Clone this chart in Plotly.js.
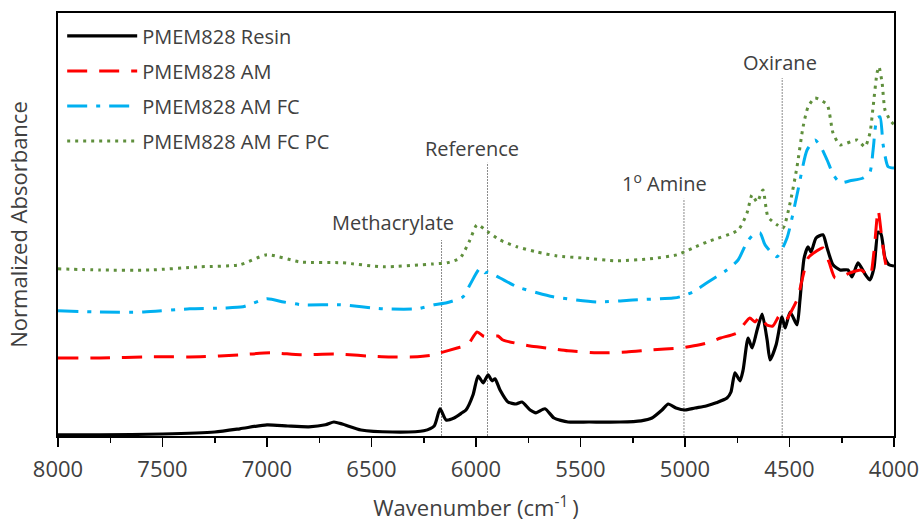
<!DOCTYPE html>
<html>
<head>
<meta charset="utf-8">
<script src="https://cdn.plot.ly/plotly-3.0.1.min.js"></script>
<style>html,body{margin:0;padding:0;background:#fff}#chart{width:920px;height:523px}</style>
</head>
<body>
<div id="chart"></div>
<script>
// ---- Data ----
const resinWavenumber = [8000,7800,7500,7250,7130,7000,6900,6800,6720,6680,6640,6550,6400,6250,6200,6172,6143,6105,6067,6048,6014,5990,5966,5942,5923,5909,5885,5847,5808,5780,5741,5713,5670,5627,5560,5459,5311,5210,5158,5110,5080,5043,5000,4952,4899,4851,4799,4780,4761,4737,4722,4698,4679,4655,4631,4607,4593,4564,4536,4521,4497,4464,4450,4430,4411,4397,4373,4340,4320,4292,4258,4220,4201,4172,4139,4115,4096,4076,4062,4043,4024,4000];
const resinAbs = [0.003,0.003,0.005,0.010,0.018,0.028,0.025,0.023,0.028,0.035,0.030,0.015,0.010,0.013,0.025,0.068,0.040,0.045,0.058,0.065,0.103,0.150,0.133,0.153,0.138,0.143,0.115,0.085,0.080,0.085,0.065,0.058,0.068,0.045,0.035,0.035,0.035,0.038,0.045,0.065,0.080,0.070,0.065,0.070,0.075,0.083,0.095,0.110,0.158,0.138,0.165,0.245,0.220,0.265,0.305,0.240,0.190,0.228,0.298,0.270,0.310,0.278,0.340,0.445,0.473,0.460,0.495,0.503,0.470,0.428,0.415,0.415,0.398,0.433,0.405,0.390,0.420,0.510,0.505,0.445,0.428,0.425];

const amWavenumber = [8000,7800,7560,7320,7130,6980,6840,6680,6450,6280,6200,6170,6090,6040,5995,5966,5947,5895,5871,5790,5741,5660,5560,5420,5280,5167,5024,4930,4880,4830,4750,4720,4690,4665,4641,4610,4580,4545,4517,4488,4460,4440,4411,4383,4340,4311,4282,4244,4210,4158,4115,4096,4076,4057,4033,4000];
const amAbs = [0.195,0.195,0.198,0.198,0.203,0.208,0.203,0.205,0.198,0.198,0.203,0.208,0.220,0.228,0.260,0.250,0.248,0.250,0.240,0.230,0.225,0.220,0.213,0.208,0.210,0.215,0.220,0.228,0.235,0.245,0.258,0.278,0.295,0.285,0.300,0.278,0.275,0.303,0.290,0.315,0.345,0.390,0.445,0.458,0.470,0.435,0.395,0.400,0.408,0.415,0.400,0.460,0.565,0.490,0.420,0.410];

const amfcWavenumber = [8000,7800,7590,7370,7210,7115,7000,6920,6830,6650,6445,6280,6200,6140,6062,6029,5980,5957,5942,5885,5804,5708,5631,5421,5250,5057,5024,4962,4895,4800,4746,4703,4674,4641,4617,4560,4512,4464,4416,4378,4350,4320,4290,4258,4210,4148,4115,4100,4081,4067,4052,4028,4000];
const amfcAbs = [0.313,0.310,0.310,0.318,0.320,0.323,0.343,0.335,0.328,0.328,0.318,0.318,0.328,0.333,0.348,0.378,0.420,0.408,0.410,0.395,0.373,0.358,0.348,0.335,0.340,0.345,0.348,0.360,0.383,0.415,0.440,0.485,0.503,0.508,0.478,0.448,0.495,0.603,0.715,0.740,0.723,0.690,0.653,0.633,0.638,0.645,0.660,0.715,0.795,0.798,0.728,0.673,0.670];

const amfcpcWavenumber = [8000,7800,7560,7320,7130,7000,6840,6640,6445,6210,6139,6076,6029,5995,5942,5885,5804,5708,5612,5488,5325,5167,5038,4962,4895,4746,4703,4679,4655,4627,4603,4560,4531,4497,4464,4435,4411,4378,4320,4292,4258,4177,4139,4115,4100,4081,4072,4057,4043,4019,4000];
const amfcpcAbs = [0.418,0.415,0.415,0.423,0.428,0.453,0.435,0.433,0.423,0.430,0.433,0.445,0.490,0.528,0.510,0.490,0.473,0.460,0.450,0.445,0.438,0.443,0.453,0.470,0.485,0.515,0.558,0.603,0.585,0.615,0.548,0.528,0.520,0.583,0.673,0.773,0.823,0.845,0.828,0.758,0.728,0.740,0.723,0.758,0.823,0.908,0.923,0.883,0.815,0.790,0.778];

const seriesNames = ["PMEM828 Resin","PMEM828 AM","PMEM828 AM FC","PMEM828 AM FC PC"];

// reference band markers
const bandNames = ["Methacrylate","Reference","1<sup>o</sup> Amine","Oxirane"];
const bandWavenumber = [6165,5945,5005,4535];
const bandLineTop = [0.49,0.683,0.593,0.895];
const bandLabelX = [6397,6019,5096,4545];
const bandLabelY = [0.535,0.72,0.633,0.933];

const xTickVals = [8000,7500,7000,6500,6000,5500,5000,4500,4000];

// ---- Plot ----
const FONT = "Open Sans, Liberation Sans, sans-serif";
const TXT = "#404040";
const styles = [
  {color:"#000000", dash:"solid", width:3.2},
  {color:"#ff0000", dash:"20px,12px", width:3},
  {color:"#00b0f0", dash:"20px,9px,4px,9px", width:3},
  {color:"#5f8f3c", dash:"3px,5px", width:3}
];
const xs = [resinWavenumber, amWavenumber, amfcWavenumber, amfcpcWavenumber];
const ys = [resinAbs, amAbs, amfcAbs, amfcpcAbs];

const traces = seriesNames.map((n,i)=>({
  type:"scatter", mode:"lines", name:n, x:xs[i], y:ys[i],
  line:{color:styles[i].color, dash:styles[i].dash, width:styles[i].width, shape:"spline", smoothing:0.6},
  legendgroup:"g"+i
}));

const shapes = bandWavenumber.map((w,i)=>({
  type:"line", xref:"x", yref:"y", x0:w, x1:w, y0:0, y1:bandLineTop[i],
  line:{color:"#8c8c8c", width:1, dash:"2px,1px"}, layer:"below"
}));

const annotations = bandNames.map((t,i)=>({
  xref:"x", yref:"y", x:bandLabelX[i], y:bandLabelY[i], text:t, showarrow:false,
  font:{family:FONT, size:20, color:TXT}, xanchor:"center", yanchor:"middle"
}));

const layout = {
  width:920, height:523,
  margin:{l:58, r:26, t:13, b:87},
  paper_bgcolor:"#ffffff", plot_bgcolor:"#ffffff",
  font:{family:FONT, color:TXT},
  showlegend:true,
  legend:{x:0.005, y:0.992, xanchor:"left", yanchor:"top", bgcolor:"rgba(0,0,0,0)",
          font:{family:FONT, size:20, color:TXT}, itemwidth:70, tracegroupgap:6},
  xaxis:{
    range:[8000,4000], tickvals:xTickVals, ticks:"outside", ticklen:9, tickwidth:1.5, tickcolor:"#000",
    minor:{dtick:250, ticks:"outside", ticklen:5, tickwidth:1.5, tickcolor:"#000"},
    showline:true, linecolor:"#000", linewidth:2, mirror:true, showgrid:false, zeroline:false,
    tickfont:{family:FONT, size:22, color:TXT}, ticklabelstandoff:4,
    automargin:false,
    title:{text:"Wavenumber (cm<sup>-1 </sup>)", font:{family:FONT, size:22, color:TXT}, standoff:18}
  },
  yaxis:{
    range:[0,1.0575], showticklabels:false, ticks:"", showline:true, linecolor:"#000", linewidth:2,
    mirror:true, showgrid:false, zeroline:false, automargin:false,
    title:{text:"Normalized Absorbance", font:{family:FONT, size:22, color:TXT}, standoff:22}
  },
  shapes:shapes,
  annotations:annotations
};

Plotly.newPlot("chart", traces, layout, {displayModeBar:false, staticPlot:true});
</script>
</body>
</html>
